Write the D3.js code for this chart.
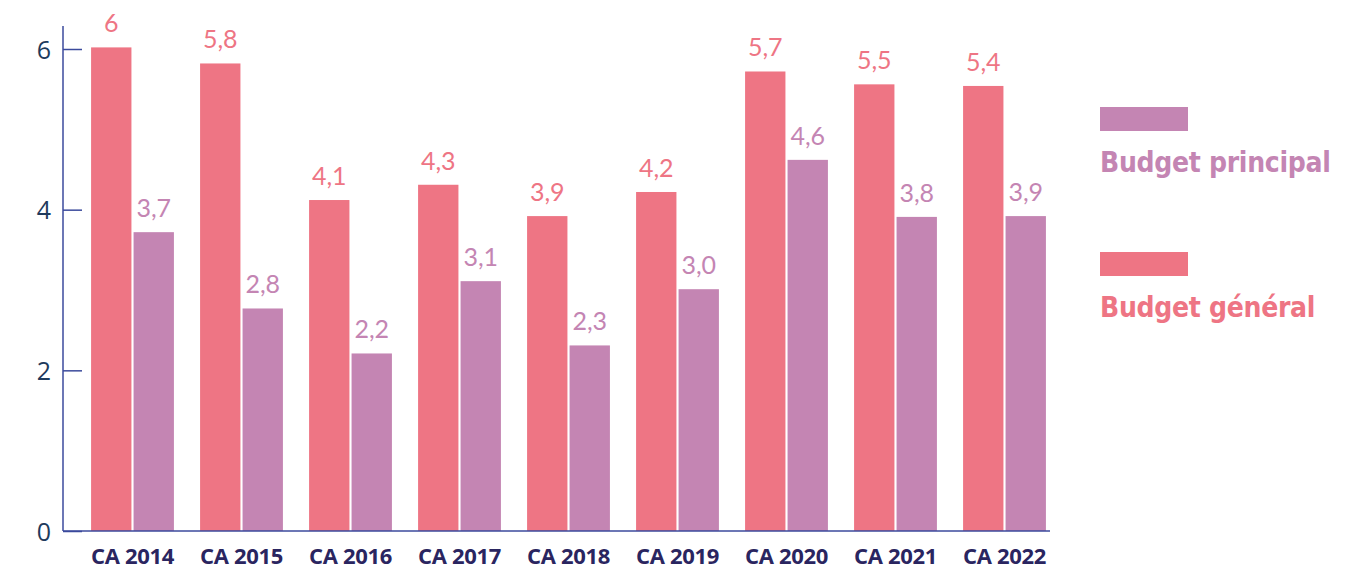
<!DOCTYPE html>
<html>
<head>
<meta charset="utf-8">
<script src="https://cdn.jsdelivr.net/npm/d3@7"></script>
<style>
  body { margin: 0; background: #fff; }
  svg { display: block; }
</style>
</head>
<body>
<svg width="1367" height="570"></svg>
<script>
var years = ['CA 2014', 'CA 2015', 'CA 2016', 'CA 2017', 'CA 2018', 'CA 2019', 'CA 2020', 'CA 2021', 'CA 2022'];
var general = [6.02, 5.82, 4.12, 4.31, 3.92, 4.22, 5.72, 5.56, 5.54];
var principal = [3.72, 2.77, 2.21, 3.11, 2.31, 3.01, 4.62, 3.91, 3.92];
var generalLabels = ['6', '5,8', '4,1', '4,3', '3,9', '4,2', '5,7', '5,5', '5,4'];
var principalLabels = ['3,7', '2,8', '2,2', '3,1', '2,3', '3,0', '4,6', '3,8', '3,9'];
var yTicks = [0, 2, 4, 6];

var PINK = '#ee7584', PURPLE = '#c485b3';

var svg = d3.select('svg');

var y = d3.scaleLinear().domain([0, 6]).range([531, 49]);
var x = d3.scaleBand().domain(years).range([78, 1059])
  .paddingInner(0.24).paddingOuter(0.12);
var sub = d3.scaleBand().domain(['g', 'p']).range([0, x.bandwidth()]).paddingInner(0.05);

// y axis
var yAxis = svg.append('g')
  .attr('transform', 'translate(63,0)')
  .call(d3.axisRight(y).tickValues(yTicks).tickSize(19).tickFormat(function(d) { return d; }));
yAxis.select('.domain').remove();
yAxis.selectAll('.tick line').attr('stroke', '#3b4a9c').attr('stroke-width', 1.5);
yAxis.selectAll('.tick text')
  .attr('x', -19).attr('text-anchor', 'middle').attr('dy', '0.36em')
  .attr('fill', '#1e3a5c').style('font', '25px "Open Sans", sans-serif');

svg.append('line').attr('x1', 63).attr('x2', 63).attr('y1', 26).attr('y2', 531)
  .attr('stroke', '#3b4a9c').attr('stroke-width', 1.5);

// bars
var groups = svg.selectAll('g.grp').data(years).enter().append('g')
  .attr('class', 'grp')
  .attr('transform', function(d) { return 'translate(' + x(d) + ',0)'; });

groups.append('rect')
  .attr('x', sub('g')).attr('width', sub.bandwidth())
  .attr('y', function(d, i) { return y(general[i]); })
  .attr('height', function(d, i) { return y(0) - y(general[i]); })
  .attr('fill', PINK);

groups.append('rect')
  .attr('x', sub('p')).attr('width', sub.bandwidth())
  .attr('y', function(d, i) { return y(principal[i]); })
  .attr('height', function(d, i) { return y(0) - y(principal[i]); })
  .attr('fill', PURPLE);

groups.append('text')
  .attr('x', sub('g') + sub.bandwidth() / 2)
  .attr('y', function(d, i) { return y(general[i]) - 15; })
  .attr('text-anchor', 'middle').attr('fill', PINK)
  .style('font', '25px Lato, sans-serif')
  .text(function(d, i) { return generalLabels[i]; });

groups.append('text')
  .attr('x', sub('p') + sub.bandwidth() / 2)
  .attr('y', function(d, i) { return y(principal[i]) - 15; })
  .attr('text-anchor', 'middle').attr('fill', PURPLE)
  .style('font', '25px Lato, sans-serif')
  .text(function(d, i) { return principalLabels[i]; });

// x axis
svg.append('line').attr('x1', 63).attr('x2', 1050).attr('y1', 531).attr('y2', 531)
  .attr('stroke', '#3b4a9c').attr('stroke-width', 1.5);

svg.selectAll('text.xl').data(years).enter().append('text')
  .attr('class', 'xl')
  .attr('x', function(d) { return x(d) + x.bandwidth() / 2; })
  .attr('y', 564)
  .attr('text-anchor', 'middle').attr('fill', '#2a2560')
  .style('font', 'bold 22px "Open Sans", sans-serif')
  .style('letter-spacing', '-0.3px')
  .text(function(d) { return d; });

// legend
var legend = [
  { name: 'Budget principal', color: PURPLE, y: 107 },
  { name: 'Budget général', color: PINK, y: 252 }
];
var lg = svg.selectAll('g.lg').data(legend).enter().append('g').attr('class', 'lg');
lg.append('rect').attr('x', 1100).attr('y', function(d) { return d.y; })
  .attr('width', 88).attr('height', 24).attr('fill', function(d) { return d.color; });
lg.append('text').attr('x', 1100).attr('y', function(d) { return d.y + 65; })
  .attr('fill', function(d) { return d.color; })
  .style('font', 'bold 28px "DejaVu Sans Condensed", sans-serif')
  .style('letter-spacing', '-0.3px')
  .text(function(d) { return d.name; });
</script>
</body>
</html>
